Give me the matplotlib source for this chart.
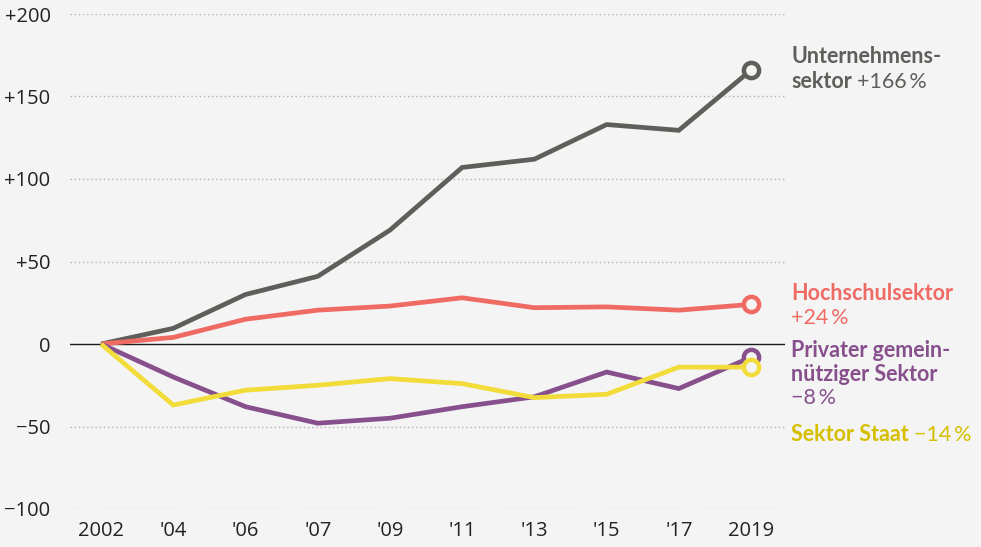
import matplotlib
matplotlib.use("Agg")
import matplotlib.pyplot as plt
from matplotlib.transforms import blended_transform_factory

years = ["2002", "'04", "'06", "'07", "'09", "'11", "'13", "'15", "'17", "2019"]
unternehmen = [0, 9.5, 30, 41, 69, 107, 112, 133, 129.5, 166]
hochschul = [0, 4, 15, 20.5, 23, 28, 22, 22.5, 20.5, 24]
privat = [0, -20, -38, -48, -45, -38, -32, -17, -27, -8]
staat = [0, -37, -28, -25, -21, -24, -32.5, -30.5, -14, -14]
yticks = [-100, -50, 0, 50, 100, 150, 200]
ytick_labels = ["\u2212100", "\u221250", "0", "+50", "+100", "+150", "+200"]

BG = "#f4f4f4"
C_GRAY = "#5f5e5a"
C_RED = "#f06a64"
C_PURPLE = "#87508d"
C_YELLOW = "#f2dc3a"
C_YELLOW_TXT = "#d6be00"

plt.rcParams["font.family"] = ["Lato", "DejaVu Sans"]

fig = plt.figure(figsize=(9.81, 5.47), dpi=100, facecolor=BG)
ax = fig.add_axes([70 / 981, (547 - 509) / 547, 715 / 981, 495 / 547])
ax.set_facecolor(BG)
x = list(range(len(years)))
ax.set_xlim(-0.43, 9.47)
ax.set_ylim(-100, 200)

for v in yticks:
    if v == 0:
        ax.axhline(0, color="#1a1a1a", lw=1.0, zorder=1)
    else:
        ax.axhline(v, color="#b0b0b0", lw=1.0, ls=(0, (1, 2)), zorder=1)

series = [
    (unternehmen, C_GRAY),
    (hochschul, C_RED),
    (privat, C_PURPLE),
    (staat, C_YELLOW),
]
for i, (vals, c) in enumerate(series):
    ax.plot(x, vals, color=c, lw=3.4, solid_joinstyle="miter", solid_capstyle="butt", zorder=3 + i)
    ax.plot([x[-1]], [vals[-1]], marker="o", ms=11, mfc=BG, mec=c, mew=3.2, zorder=10 + i)

ax.set_xticks(x)
ax.set_xticklabels(years)
ax.set_yticks(yticks)
ax.set_yticklabels(ytick_labels)
ax.tick_params(length=0, labelsize=14.5, colors="#222222")
ax.tick_params(axis="y", pad=14)
ax.tick_params(axis="x", pad=9)
for lab in ax.get_xticklabels() + ax.get_yticklabels():
    lab.set_fontfamily(["Open Sans", "DejaVu Sans"])
for s in ax.spines.values():
    s.set_visible(False)

tr = blended_transform_factory(ax.transAxes, ax.transData)
lx = (791 - 70) / 715
FS = 15.5


def line(txt, y, color, bold=True):
    return ax.text(lx, y, txt, transform=tr, color=color, fontsize=FS,
                   fontweight="bold" if bold else "normal", ha="left", va="baseline",
                   clip_on=False)


def tail(t, txt, color):
    ax.annotate(txt, xy=(1, 0), xycoords=t, xytext=(4, 0), textcoords="offset points",
                color=color, fontsize=FS, ha="left", va="bottom")


line("Unternehmens-", 170.1, C_GRAY)
t = line("sektor", 155.2, C_GRAY)
tail(t, "+166\u2009%", C_GRAY)

line("Hochschulsektor", 26.7, C_RED)
line("+24\u2009%", 12.1, C_RED, bold=False)

line("Privater gemein-", -8.1, C_PURPLE)
line("nützi\u0067er Sektor", -22.4, C_PURPLE)
line("\u22128\u2009%", -36.4, C_PURPLE, bold=False)

t = line("Sektor Staat", -58.8, C_YELLOW_TXT)
tail(t, "\u221214\u2009%", C_YELLOW_TXT)

fig.savefig("out.png", dpi=100, facecolor=BG)
